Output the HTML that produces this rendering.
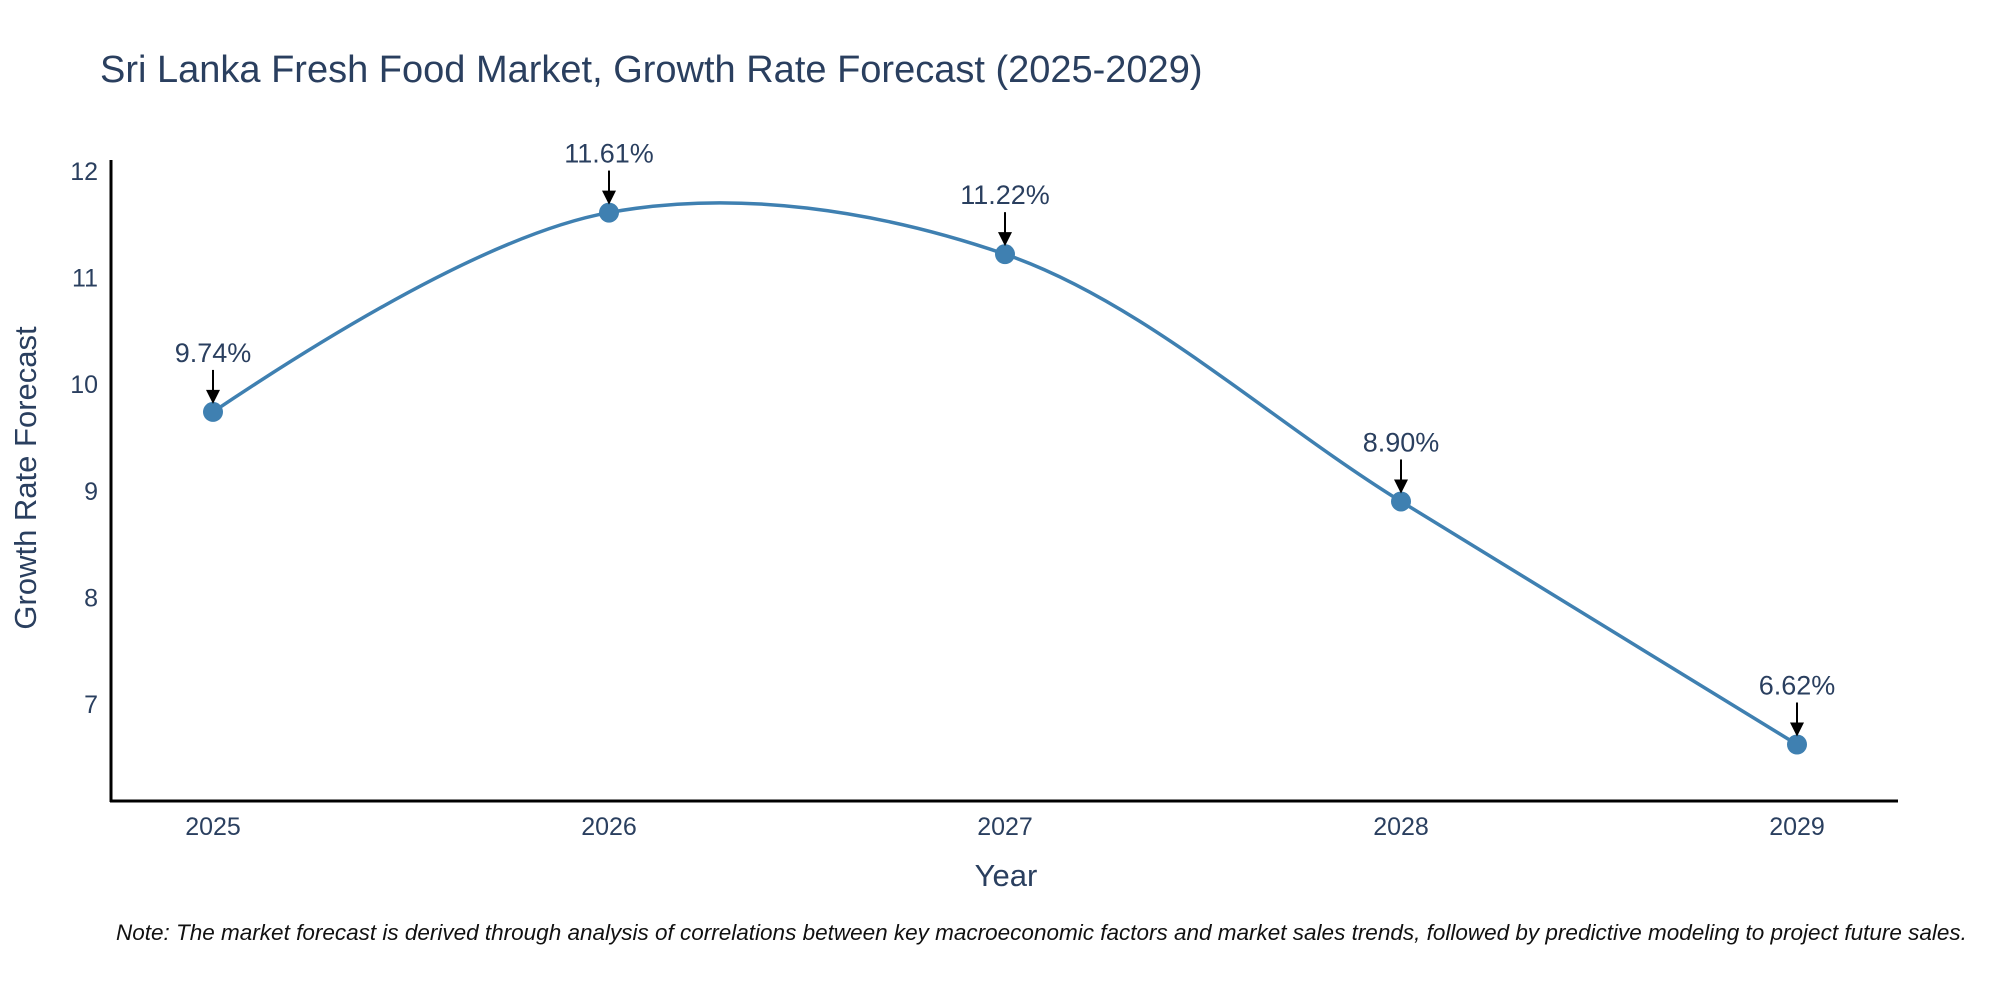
<!DOCTYPE html>
<html><head><meta charset="utf-8"><style>
body{margin:0;background:#fff}
svg{display:block;font-family:"Liberation Sans","DejaVu Sans",sans-serif}
</style></head><body>
<svg id="chart" width="2000" height="1000" viewBox="0 0 2000 1000">
<text x="100" y="82" font-size="38" fill="#2a3f5f">Sri Lanka Fresh Food Market, Growth Rate Forecast (2025-2029)</text>
<line x1="111" y1="160" x2="111" y2="802" stroke="#000" stroke-width="3"/>
<line x1="110" y1="801" x2="1898" y2="801" stroke="#000" stroke-width="3"/>
<g id="yticks"></g><g id="xticks"></g>
<text transform="translate(36,478) rotate(-90)" text-anchor="middle" font-size="31" fill="#2a3f5f">Growth Rate Forecast</text>
<text x="1006" y="886" text-anchor="middle" font-size="31" fill="#2a3f5f">Year</text>
<path id="line" fill="none" stroke="#3f80b1" stroke-width="3.5"/>
<g id="marks"></g>
<text x="116" y="940" font-size="22.5" font-style="italic" fill="#111">Note: The market forecast is derived through analysis of correlations between key macroeconomic factors and market sales trends, followed by predictive modeling to project future sales.</text>
</svg>
<script>
const years=[2025,2026,2027,2028,2029];
const values=[9.74,11.61,11.22,8.90,6.62];
const labels=["9.74%","11.61%","11.22%","8.90%","6.62%"];
const yTicks=[7,8,9,10,11,12];
const NS="http://www.w3.org/2000/svg";
const xS=v=>213+(v-2025)*396;
const yS=v=>704-(v-7)*106.6;
function mk(t,a,p){const e=document.createElementNS(NS,t);for(const k in a)e.setAttribute(k,a[k]);(p||document.getElementById('chart')).appendChild(e);return e;}
const yt=document.getElementById('yticks'),xt=document.getElementById('xticks');
yTicks.forEach(v=>{const e=mk('text',{x:98,y:yS(v)+9,'text-anchor':'end','font-size':25,fill:'#2a3f5f'},yt);e.textContent=v;

});
years.forEach(v=>{const e=mk('text',{x:xS(v),y:835,'text-anchor':'middle','font-size':25,fill:'#2a3f5f'},xt);e.textContent=v;

});
const pts=years.map((y,i)=>[xS(y),yS(values[i])]);
function tang(a,b,c,s){const d1x=a[0]-b[0],d1y=a[1]-b[1],d2x=c[0]-b[0],d2y=c[1]-b[1];
const d1a=Math.pow(d1x*d1x+d1y*d1y,0.25),d2a=Math.pow(d2x*d2x+d2y*d2y,0.25);
const nx=(d2a*d2a*d1x-d1a*d1a*d2x)*s,ny=(d2a*d2a*d1y-d1a*d1a*d2y)*s;
const de1=3*d2a*(d1a+d2a),de2=3*d1a*(d1a+d2a);
return [[b[0]+nx/de1,b[1]+ny/de1],[b[0]-nx/de2,b[1]-ny/de2]];}
const tg=[];for(let i=1;i<pts.length-1;i++)tg.push(tang(pts[i-1],pts[i],pts[i+1],1));
const P=p=>p[0].toFixed(2)+','+p[1].toFixed(2);
let d='M'+P(pts[0])+'Q'+P(tg[0][0])+' '+P(pts[1]);
for(let i=2;i<pts.length-1;i++)d+='C'+P(tg[i-2][1])+' '+P(tg[i-1][0])+' '+P(pts[i]);
d+='Q'+P(tg[tg.length-1][1])+' '+P(pts[pts.length-1]);
document.getElementById('line').setAttribute('d',d);
const mg=document.getElementById('marks');
pts.forEach((p,i)=>{
const c=mk('circle',{cx:p[0],cy:p[1],r:10,fill:'#3f80b1'},mg);


const l=mk('line',{x1:p[0],y1:p[1]-42,x2:p[0],y2:p[1]-20,stroke:'#000','stroke-width':2},mg);


const h=mk('polygon',{points:`${p[0]-7},${p[1]-22} ${p[0]+7},${p[1]-22} ${p[0]},${p[1]-8}`,fill:'#000'},mg);


const t=mk('text',{x:p[0],y:p[1]-50,'text-anchor':'middle','font-size':27,fill:'#2a3f5f'},mg);t.textContent=labels[i];


});
</script>
</body></html>
